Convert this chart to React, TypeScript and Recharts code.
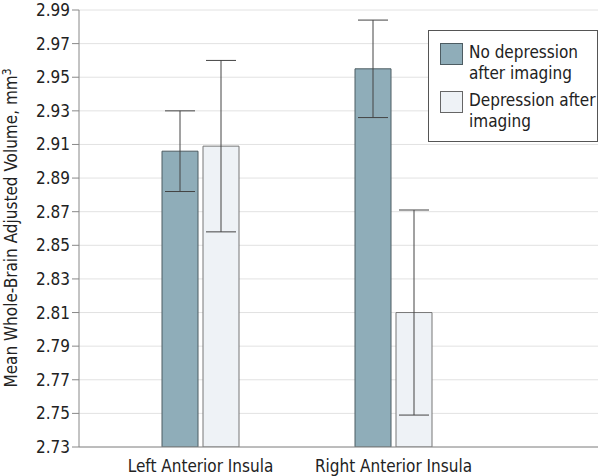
import React from 'react'
import { BarChart, Bar, XAxis, YAxis, CartesianGrid, ErrorBar, Label } from 'recharts'

const categories = ['Left Anterior Insula', 'Right Anterior Insula']
const noDepMean = [2.906, 2.955]
const noDepLow = [2.882, 2.926]
const noDepHigh = [2.930, 2.984]
const depMean = [2.909, 2.810]
const depLow = [2.858, 2.749]
const depHigh = [2.960, 2.871]
const yTicks = [2.73, 2.75, 2.77, 2.79, 2.81, 2.83, 2.85, 2.87, 2.89, 2.91, 2.93, 2.95, 2.97, 2.99]

const FONT = "'DejaVu Sans Condensed', 'DejaVu Sans', sans-serif"
const NO_DEP = '#8fadb9'
const DEP = '#eef2f6'

const data = categories.map((name, i) => ({
  name,
  noDep: noDepMean[i],
  noDepErr: [noDepMean[i] - noDepLow[i], noDepHigh[i] - noDepMean[i]],
  dep: depMean[i],
  depErr: [depMean[i] - depLow[i], depHigh[i] - depMean[i]],
}))

function LegendBox() {
  const row = (fill: string, stroke: string, lines: string[]) => (
    <div style={{ display: 'flex', alignItems: 'flex-start', marginBottom: 6 }}>
      <div style={{ width: 21, height: 20, background: fill, border: `1px solid ${stroke}`, marginTop: 1, marginRight: 6, flexShrink: 0 }} />
      <div style={{ lineHeight: '21px', whiteSpace: 'nowrap' }}>
        {lines.map((l) => <div key={l}>{l}</div>)}
      </div>
    </div>
  )
  return (
    <div style={{ position: 'absolute', left: 428, top: 30, boxSizing: 'border-box', width: 170, height: 112, border: '1px solid #555', background: '#fff', padding: '11px 4px 0 11px', fontFamily: FONT, fontSize: 17, color: '#222' }}>
      {row(NO_DEP, '#4d5c62', ['No depression', 'after imaging'])}
      {row(DEP, '#666', ['Depression after', 'imaging'])}
    </div>
  )
}

const YLabel = () => (
  <text x={17} y={228} transform="rotate(-90 17 228)" textAnchor="middle" fontFamily={FONT} fontSize={17} fill="#222">
    Mean Whole-Brain Adjusted Volume, mm<tspan dy={-6} fontSize={12}>3</tspan>
  </text>
)

export default function App() {
  return (
    <div style={{ position: 'absolute', left: 0, top: 0, width: 600, height: 476, background: '#fff' }}>
      <BarChart width={600} height={476} data={data} margin={{ top: 10, right: 2, bottom: 0, left: 0 }} barSize={36} barGap={5}>
        <CartesianGrid vertical={false} stroke="#e2e2e2" />
        <XAxis
          dataKey="name"
          tickLine={false}
          axisLine={{ stroke: '#888' }}
          padding={{ left: 25, right: 108 }}
          tick={{ fontFamily: FONT, fontSize: 17, fill: '#222' }}
          tickMargin={7}
          height={29}
        />
        <YAxis
          width={79}
          domain={[2.73, 2.99]}
          ticks={yTicks}
          interval={0}
          allowDataOverflow
          tickFormatter={(v: number) => v.toFixed(2)}
          tickSize={7}
          tickLine={{ stroke: '#888' }}
          axisLine={{ stroke: '#888' }}
          tick={{ fontFamily: FONT, fontSize: 17, fill: '#222' }}
        >
          <Label content={YLabel} />
        </YAxis>
        <Bar dataKey="noDep" fill={NO_DEP} stroke="#4d5c62" strokeWidth={1} isAnimationActive={false}>
          <ErrorBar dataKey="noDepErr" width={15} stroke="#444" strokeWidth={1} />
        </Bar>
        <Bar dataKey="dep" fill={DEP} stroke="#777" strokeWidth={1} isAnimationActive={false}>
          <ErrorBar dataKey="depErr" width={15} stroke="#444" strokeWidth={1} />
        </Bar>
      </BarChart>
      <LegendBox />
    </div>
  )
}
